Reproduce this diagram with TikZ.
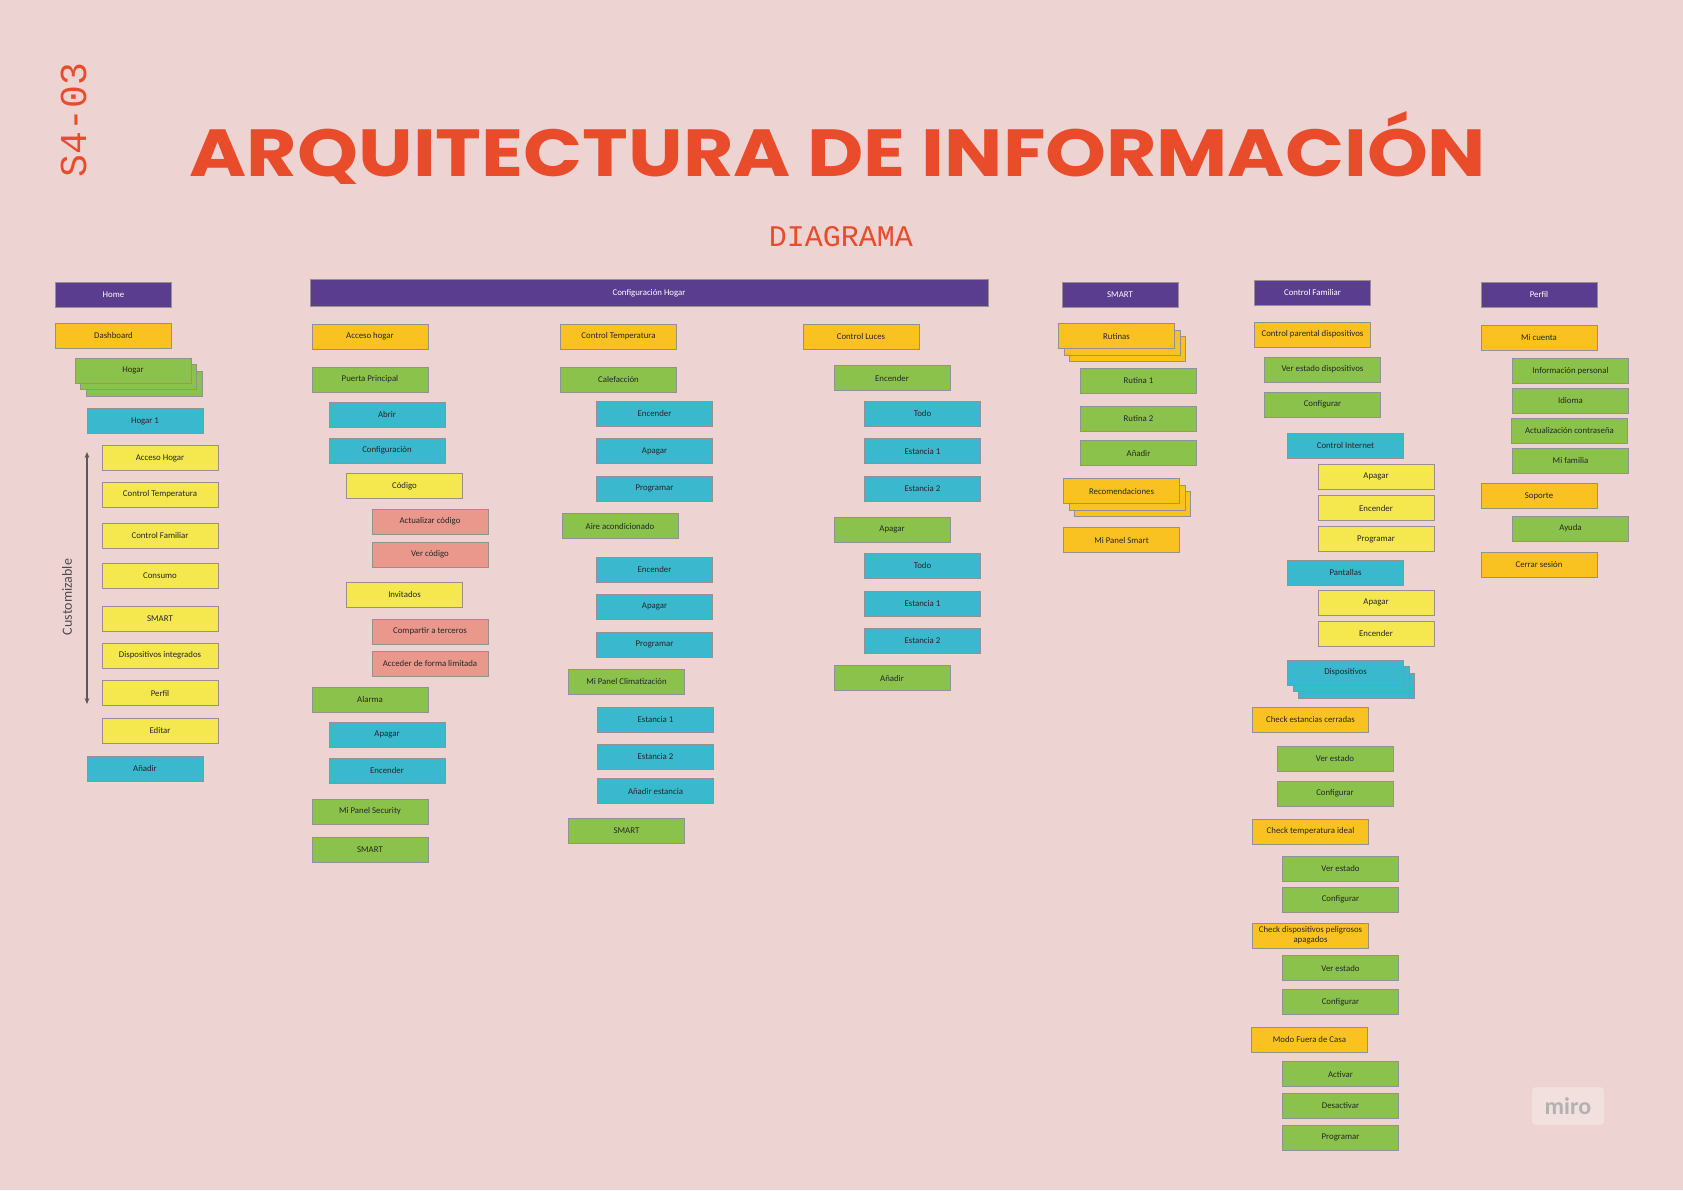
\documentclass[tikz,border=0pt]{standalone}
\usepackage{fontspec}
\setmainfont{Carlito}
\newfontfamily\titlefont{Poppins}
\newfontfamily\monofont{Liberation Mono}
\usetikzlibrary{shadows,arrows.meta}
\definecolor{cBg}{RGB}{237,211,210}
\definecolor{cTitle}{RGB}{232,76,42}
\definecolor{cLine}{RGB}{150,145,145}
\definecolor{cPu}{RGB}{90,61,143}
\definecolor{cOr}{RGB}{250,194,32}
\definecolor{cGr}{RGB}{139,194,76}
\definecolor{cCy}{RGB}{58,184,205}
\definecolor{cYe}{RGB}{245,232,78}
\definecolor{cSa}{RGB}{235,152,140}
\begin{document}
\begin{tikzpicture}[x=0.5pt, y=-0.5pt,
    card/.style={draw=cLine, line width=0.4pt, fill=#1, minimum width=58pt, minimum height=12.5pt,
        inner sep=0pt, align=center, font=\fontsize{4.4}{5}\selectfont, text=black!85},
    head/.style={card=cPu, text=white},
    stackcard/.style={card=#1, double copy shadow={shadow xshift=2.8pt, shadow yshift=-3.3pt}}]
\fill[cBg] (0,0) rectangle (1683,1190);
\useasboundingbox (0,0) rectangle (1683,1190);

% title
\node[anchor=base, inner sep=0pt, text=cTitle] (title) at (838,176)
    {\resizebox{648pt}{32.5pt}{\titlefont\bfseries ARQUITECTURA DE INFORMACIÓN}};
\node[rotate=90, text=cTitle, font=\monofont\fontsize{19}{20}\selectfont] (code) at (73.5,120) {S4-03};
\node[text=cTitle, font=\monofont\fontsize{15}{16}\selectfont] (sub) at (841,237) {DIAGRAMA};

% Home
\node[head] (home) at (113.5,294.5) {Home};
\node[card=cOr] (dash) at (113.5,335.5) {Dashboard};
\node[stackcard=cGr] (hogar) at (133,370.5) {Hogar};
\node[card=cCy] (hogar1) at (145,421) {Hogar 1};
\foreach \n/\y/\t in {hacc/458/Acceso Hogar, htem/494.5/Control Temperatura, hfam/535.5/Control Familiar,
    hcon/575.5/Consumo, hsma/618.5/SMART, hdis/655.5/Dispositivos integrados, hper/693/Perfil, hedi/730.5/Editar}
{
    \node[card=cYe] (\n) at (160,\y) {\t};
}
\node[card=cCy] (hanad) at (145,768.5) {Añadir};
\coordinate (custtop) at (87,452);
\coordinate (custbot) at (87,704);
\draw[{Stealth[length=3pt,width=2.4pt]}-{Stealth[length=3pt,width=2.4pt]}, line width=0.6pt, black!65] (custtop) -- (custbot);
\node[rotate=90, font=\fontsize{7}{8}\selectfont, text=black!70] (cust) at (67,597) {Customizable};

% Configuracion Hogar
\node[head, minimum width=339pt, minimum height=13.5pt] (config) at (649,293) {Configuración Hogar};
\foreach \n/\x/\y/\c/\t in {acch/370/336.5/cOr/Acceso hogar, puerta/370/379.5/cGr/Puerta Principal,
    abrir/387/414.5/cCy/Abrir, pconf/387/450.5/cCy/Configuración, codigo/404.5/486/cYe/Código,
    actcod/430/521.5/cSa/Actualizar código, vercod/430/554.5/cSa/Ver código, invit/404.5/594.5/cYe/Invitados,
    compart/430/631.5/cSa/Compartir a terceros, acced/430/663.5/cSa/Acceder de forma limitada,
    alarma/370/699.5/cGr/Alarma, alapa/387/734.5/cCy/Apagar, alenc/387/770.5/cCy/Encender,
    psec/370/811.5/cGr/Mi Panel Security, smarta/370/850/cGr/SMART}
{
    \node[card=\c] (\n) at (\x,\y) {\t};
}
\foreach \n/\x/\y/\c/\t in {ctemp/618.5/336.5/cOr/Control Temperatura, calef/618.5/379.5/cGr/Calefacción,
    calenc/654.5/413.5/cCy/Encender, calapa/654.5/451/cCy/Apagar, calpro/654.5/488.5/cCy/Programar,
    aire/620/526/cGr/Aire acondicionado, airenc/654.5/569.5/cCy/Encender, airapa/654.5/606.5/cCy/Apagar,
    airpro/654.5/644.5/cCy/Programar, pclim/626.5/681.5/cGr/Mi Panel Climatización,
    est1/655.5/719.5/cCy/Estancia 1, est2/655.5/756.5/cCy/Estancia 2, anest/655.5/791/cCy/Añadir estancia,
    smartb/626.5/830.5/cGr/SMART}
{
    \node[card=\c] (\n) at (\x,\y) {\t};
}
\foreach \n/\x/\y/\c/\t in {cluces/861/336.5/cOr/Control Luces, lenc/892/378/cGr/Encender,
    lencto/922.5/413.5/cCy/Todo, lence1/922.5/451/cCy/Estancia 1, lence2/922.5/488.5/cCy/Estancia 2,
    lapa/892/529.5/cGr/Apagar, lapato/922.5/565.5/cCy/Todo, lapae1/922.5/603.5/cCy/Estancia 1,
    lapae2/922.5/640.5/cCy/Estancia 2, lanad/892/678/cGr/Añadir}
{
    \node[card=\c] (\n) at (\x,\y) {\t};
}

% SMART
\node[head] (smarth) at (1120,294.5) {SMART};
\node[stackcard=cOr] (rutinas) at (1116.5,336) {Rutinas};
\foreach \n/\y/\t in {rut1/380.5/Rutina 1, rut2/418.5/Rutina 2, rutan/453/Añadir}
{
    \node[card=cGr] (\n) at (1138.5,\y) {\t};
}
\node[stackcard=cOr] (recom) at (1121.5,491) {Recomendaciones};
\node[card=cOr] (psmart) at (1121.5,540) {Mi Panel Smart};

% Control Familiar
\node[head] (cfam) at (1312.5,292.5) {Control Familiar};
\foreach \n/\x/\y/\c/\t in {cpar/1312.5/334.5/cOr/Control parental dispositivos,
    verdis/1322.5/369.5/cGr/Ver estado dispositivos, cfconf/1322.5/404.5/cGr/Configurar,
    cint/1345.5/445.5/cCy/Control Internet, ciapa/1376/476.5/cYe/Apagar, cienc/1376/508/cYe/Encender,
    cipro/1376/539/cYe/Programar, pant/1345.5/572.5/cCy/Pantallas, papa/1376/602.5/cYe/Apagar,
    penc/1376/633.5/cYe/Encender, chest/1310.5/719.5/cOr/Check estancias cerradas,
    chver/1335/758.5/cGr/Ver estado, chconf/1335/793.5/cGr/Configurar,
    chtemp/1310.5/831.5/cOr/Check temperatura ideal, tver/1340.5/868.5/cGr/Ver estado,
    tconf/1340.5/899.5/cGr/Configurar, dver/1340.5/968/cGr/Ver estado, dconf/1340.5/1002/cGr/Configurar,
    modo/1309.5/1039.5/cOr/Modo Fuera de Casa, mact/1340.5/1074/cGr/Activar,
    mdes/1340.5/1105.5/cGr/Desactivar, mpro/1340.5/1137.5/cGr/Programar}
{
    \node[card=\c] (\n) at (\x,\y) {\t};
}
\node[stackcard=cCy] (dispo) at (1345.5,672.5) {Dispositivos};
\node[card=cOr] (chdisp) at (1310.5,935.5) {Check dispositivos peligrosos\\apagados};

% Perfil
\node[head] (perfh) at (1539,294.5) {Perfil};
\foreach \n/\x/\y/\c/\t in {micta/1539/337.5/cOr/Mi cuenta, infop/1570.5/371/cGr/Información personal,
    idioma/1570.5/400.5/cGr/Idioma, actcon/1569.5/430.5/cGr/Actualización contraseña,
    mifam/1570.5/460.5/cGr/Mi familia, soporte/1539/496/cOr/Soporte, ayuda/1570.5/528.5/cGr/Ayuda,
    cerrar/1539/564.5/cOr/Cerrar sesión}
{
    \node[card=\c] (\n) at (\x,\y) {\t};
}

\node[fill=white, fill opacity=0.3, text opacity=1, rounded corners=2pt, minimum width=36pt, minimum height=19pt,
    text=black!30, font=\fontsize{12}{12}\selectfont\bfseries] (miro) at (1568,1106) {miro};
\end{tikzpicture}
\end{document}
